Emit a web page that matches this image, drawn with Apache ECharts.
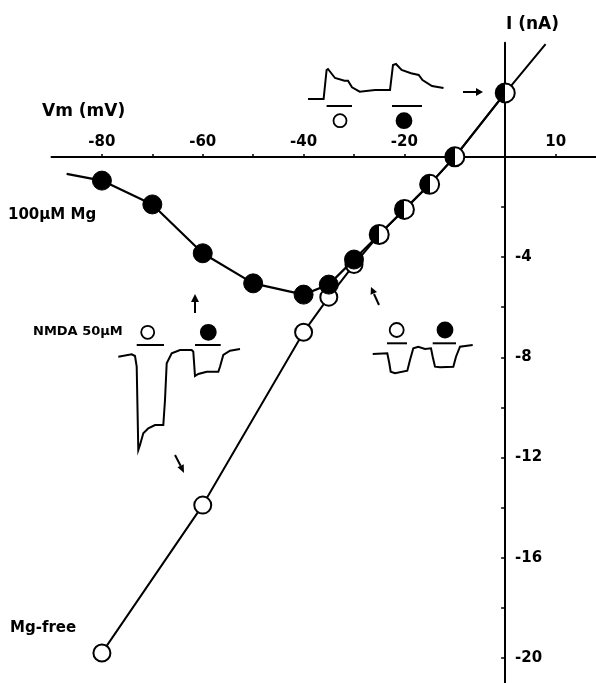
<!DOCTYPE html>
<html>
<head>
<meta charset="utf-8">
<script src="https://cdn.jsdelivr.net/npm/echarts@6/dist/echarts.min.js"></script>
<style>
html,body{margin:0;padding:0;background:#fff;}
#c{width:596px;height:683px;}
</style>
</head>
<body>
<div id="c"></div>
<script>
// Data
var vmMg   = [-80, -70, -60, -50, -40, -35, -30, -25, -20, -15, -10, 0];
var iMg    = [-0.95, -1.9, -3.85, -5.05, -5.5, -5.1, -4.1, -3.1, -2.1, -1.1, 0, 2.55];
var vmFree = [-80, -60, -40, -35, -30, -25, -20, -15, -10, 0];
var iFree  = [-19.8, -13.9, -7.0, -5.6, -4.3, -3.1, -2.1, -1.1, 0, 2.55];
// line extensions beyond the end points (no markers)
var mgTail   = [-87, -0.68];
var freeHead = [8, 4.5];
var xTickValues  = [-80, -70, -60, -50, -40, -30, -20, -10, 10];
var xLabelValues = [-80, -60, -40, -20, 10];
var yTickValues  = [-2, -4, -6, -8, -10, -12, -14, -16, -18, -20];
var yLabelValues = [-4, -8, -12, -16, -20];

var FONT = 'DejaVu Sans';
var half = {type:'linear', x:0, y:0, x2:1, y2:0, colorStops:[
  {offset:0,color:'#000'},{offset:0.5,color:'#000'},{offset:0.5,color:'#fff'},{offset:1,color:'#fff'}]};

var mgData = [{value: mgTail, symbol: 'none'}];
vmMg.forEach(function(v, k){
  var j = vmFree.indexOf(v);
  var overlap = j >= 0 && iFree[j] === iMg[k];
  var item = {value: [v, iMg[k]]};
  if (overlap) item.itemStyle = {color: half, borderColor:'#000', borderWidth:2};
  mgData.push(item);
});
var freeData = vmFree.map(function(v, k){ return [v, iFree[k]]; });
freeData.push({value: freeHead, symbol: 'none'});

function txt(x, y, s, size){
  return {type:'text', left:x, top:y, style:{text:s, fill:'#000', font:'bold ' + size + 'px "' + FONT + '"'}};
}
function poly(pts, w){
  return {type:'polyline', shape:{points:pts}, style:{stroke:'#000', fill:null, lineWidth:w||2}};
}
function circ(cx, cy, r, filled){
  return {type:'circle', shape:{cx:cx, cy:cy, r:r}, style:{fill: filled ? '#000' : '#fff', stroke:'#000', lineWidth:1.8}};
}
function bar(x1, x2, y){
  return {type:'line', shape:{x1:x1, y1:y, x2:x2, y2:y}, style:{stroke:'#000', lineWidth:2}};
}
function tri(p){
  return {type:'polygon', shape:{points:p}, style:{fill:'#000'}};
}

var graphics = [
  txt(506, 16, 'I (nA)', 17),
  txt(42, 103, 'Vm (mV)', 17),
  txt(8, 208, '100\u00b5M Mg', 15),
  txt(33, 325, 'NMDA 50\u00b5M', 13),
  txt(10, 621, 'Mg-free', 15),
  // top inset
  poly([[308,99],[323.6,99],[326.6,70],[328,69],[335,78],[344.5,80.7],[348,80.7],[352,87.3],[359.7,91.7],[375,90],[390,90],[393,65],[396,64],[401.6,70],[411,73.3],[418.7,75],[422.5,80],[432,86],[443.5,88]]),
  bar(326.6, 352, 106), bar(392, 422, 106),
  circ(340, 120.7, 6.5, false), circ(404, 120.7, 7.5, true),
  {type:'line', shape:{x1:463, y1:92, x2:477, y2:92}, style:{stroke:'#000', lineWidth:2}},
  tri([[476,88],[483,92],[476,96]]),
  // left inset
  poly([[118.3,356.7],[131.7,354.3],[135,356],[136.7,366.7],[138.3,450],[140,445],[143.3,433.3],[148.3,428.3],[155,425],[163.3,425],[165,400],[166.7,363.3],[171.7,353.3],[180,350],[191.7,350],[193.3,351.7],[195,376],[198.3,374],[206.7,371.7],[218.3,371.7],[220,366.7],[223.3,355],[230,350.7],[240,349]]),
  bar(136.7, 164, 345), bar(195, 220.7, 345),
  circ(147.7, 332.3, 6.5, false), circ(208.3, 332.3, 7.5, true),
  {type:'line', shape:{x1:195, y1:313, x2:195, y2:301}, style:{stroke:'#000', lineWidth:2}},
  tri([[191,302],[195,294],[199,302]]),
  {type:'line', shape:{x1:175, y1:455, x2:180.6, y2:465.8}, style:{stroke:'#000', lineWidth:2}},
  tri([[183.7,464.3],[184,473],[177.5,467.3]]),
  // right inset
  poly([[372.7,354],[387.3,353.3],[389.3,363.3],[390.7,371.7],[395,373.3],[407.3,370.7],[410,360],[413.3,348.3],[418.3,346.7],[425,349],[431,348.3],[432.7,356.7],[435,366.7],[440,367.3],[453.3,366.7],[456,356.7],[460,346.7],[472.7,345]]),
  bar(387, 407, 343.3), bar(432.7, 456, 343.3),
  circ(396.7, 330, 7, false), circ(445, 330, 7.5, true),
  {type:'line', shape:{x1:379, y1:305, x2:374, y2:294}, style:{stroke:'#000', lineWidth:2}},
  tri([[377,292],[371,287],[370.6,294.8]])
];

var GL = 51.5, GT = 42.8, GW = 545.4, GH = 641.3;
var XMIN = -90, XMAX = 18, YMIN = -21, YMAX = 4.55;
// offsets that bring the axes to the zero lines
var xOff = -(GH * (YMAX - 0) / (YMAX - YMIN));   // top axis moved down to I = 0
var yOff = -(GW * (XMAX - 0) / (XMAX - XMIN));   // right axis moved left to V = 0

var chart = echarts.init(document.getElementById('c'), null, {renderer:'canvas'});
chart.setOption({
  animation: false,
  backgroundColor: '#fff',
  grid: {left: GL, top: GT, width: GW, height: GH, containLabel: false},
  xAxis: {
    type: 'value', min: XMIN, max: XMAX, position: 'top', offset: xOff,
    axisLine: {onZero: false, lineStyle: {color:'#000', width:2}},
    axisTick: {inside: false, length: 3, customValues: xTickValues, lineStyle:{color:'#000', width:1.5}},
    axisLabel: {margin: 7, customValues: xLabelValues, color:'#000', fontSize:15, fontWeight:'bold', fontFamily: FONT},
    splitLine: {show: false}
  },
  yAxis: {
    type: 'value', min: YMIN, max: YMAX, position: 'right', offset: yOff,
    axisLine: {onZero: false, lineStyle: {color:'#000', width:2}},
    axisTick: {inside: true, length: 4, customValues: yTickValues, lineStyle:{color:'#000', width:1.5}},
    axisLabel: {margin: 10, customValues: yLabelValues, color:'#000', fontSize:15, fontWeight:'bold', fontFamily: FONT},
    splitLine: {show: false}
  },
  series: [
    {
      name: 'Mg-free', type: 'line', data: freeData, z: 2,
      symbol: 'circle', symbolSize: 17,
      lineStyle: {color:'#000', width:2},
      itemStyle: {color:'#fff', borderColor:'#000', borderWidth:2}
    },
    {
      name: '100uM Mg', type: 'line', data: mgData, z: 3,
      symbol: 'circle', symbolSize: 19,
      lineStyle: {color:'#000', width:2.2},
      itemStyle: {color:'#000', borderColor:'#000', borderWidth:1}
    }
  ],
  graphic: graphics
});
</script>
</body>
</html>
